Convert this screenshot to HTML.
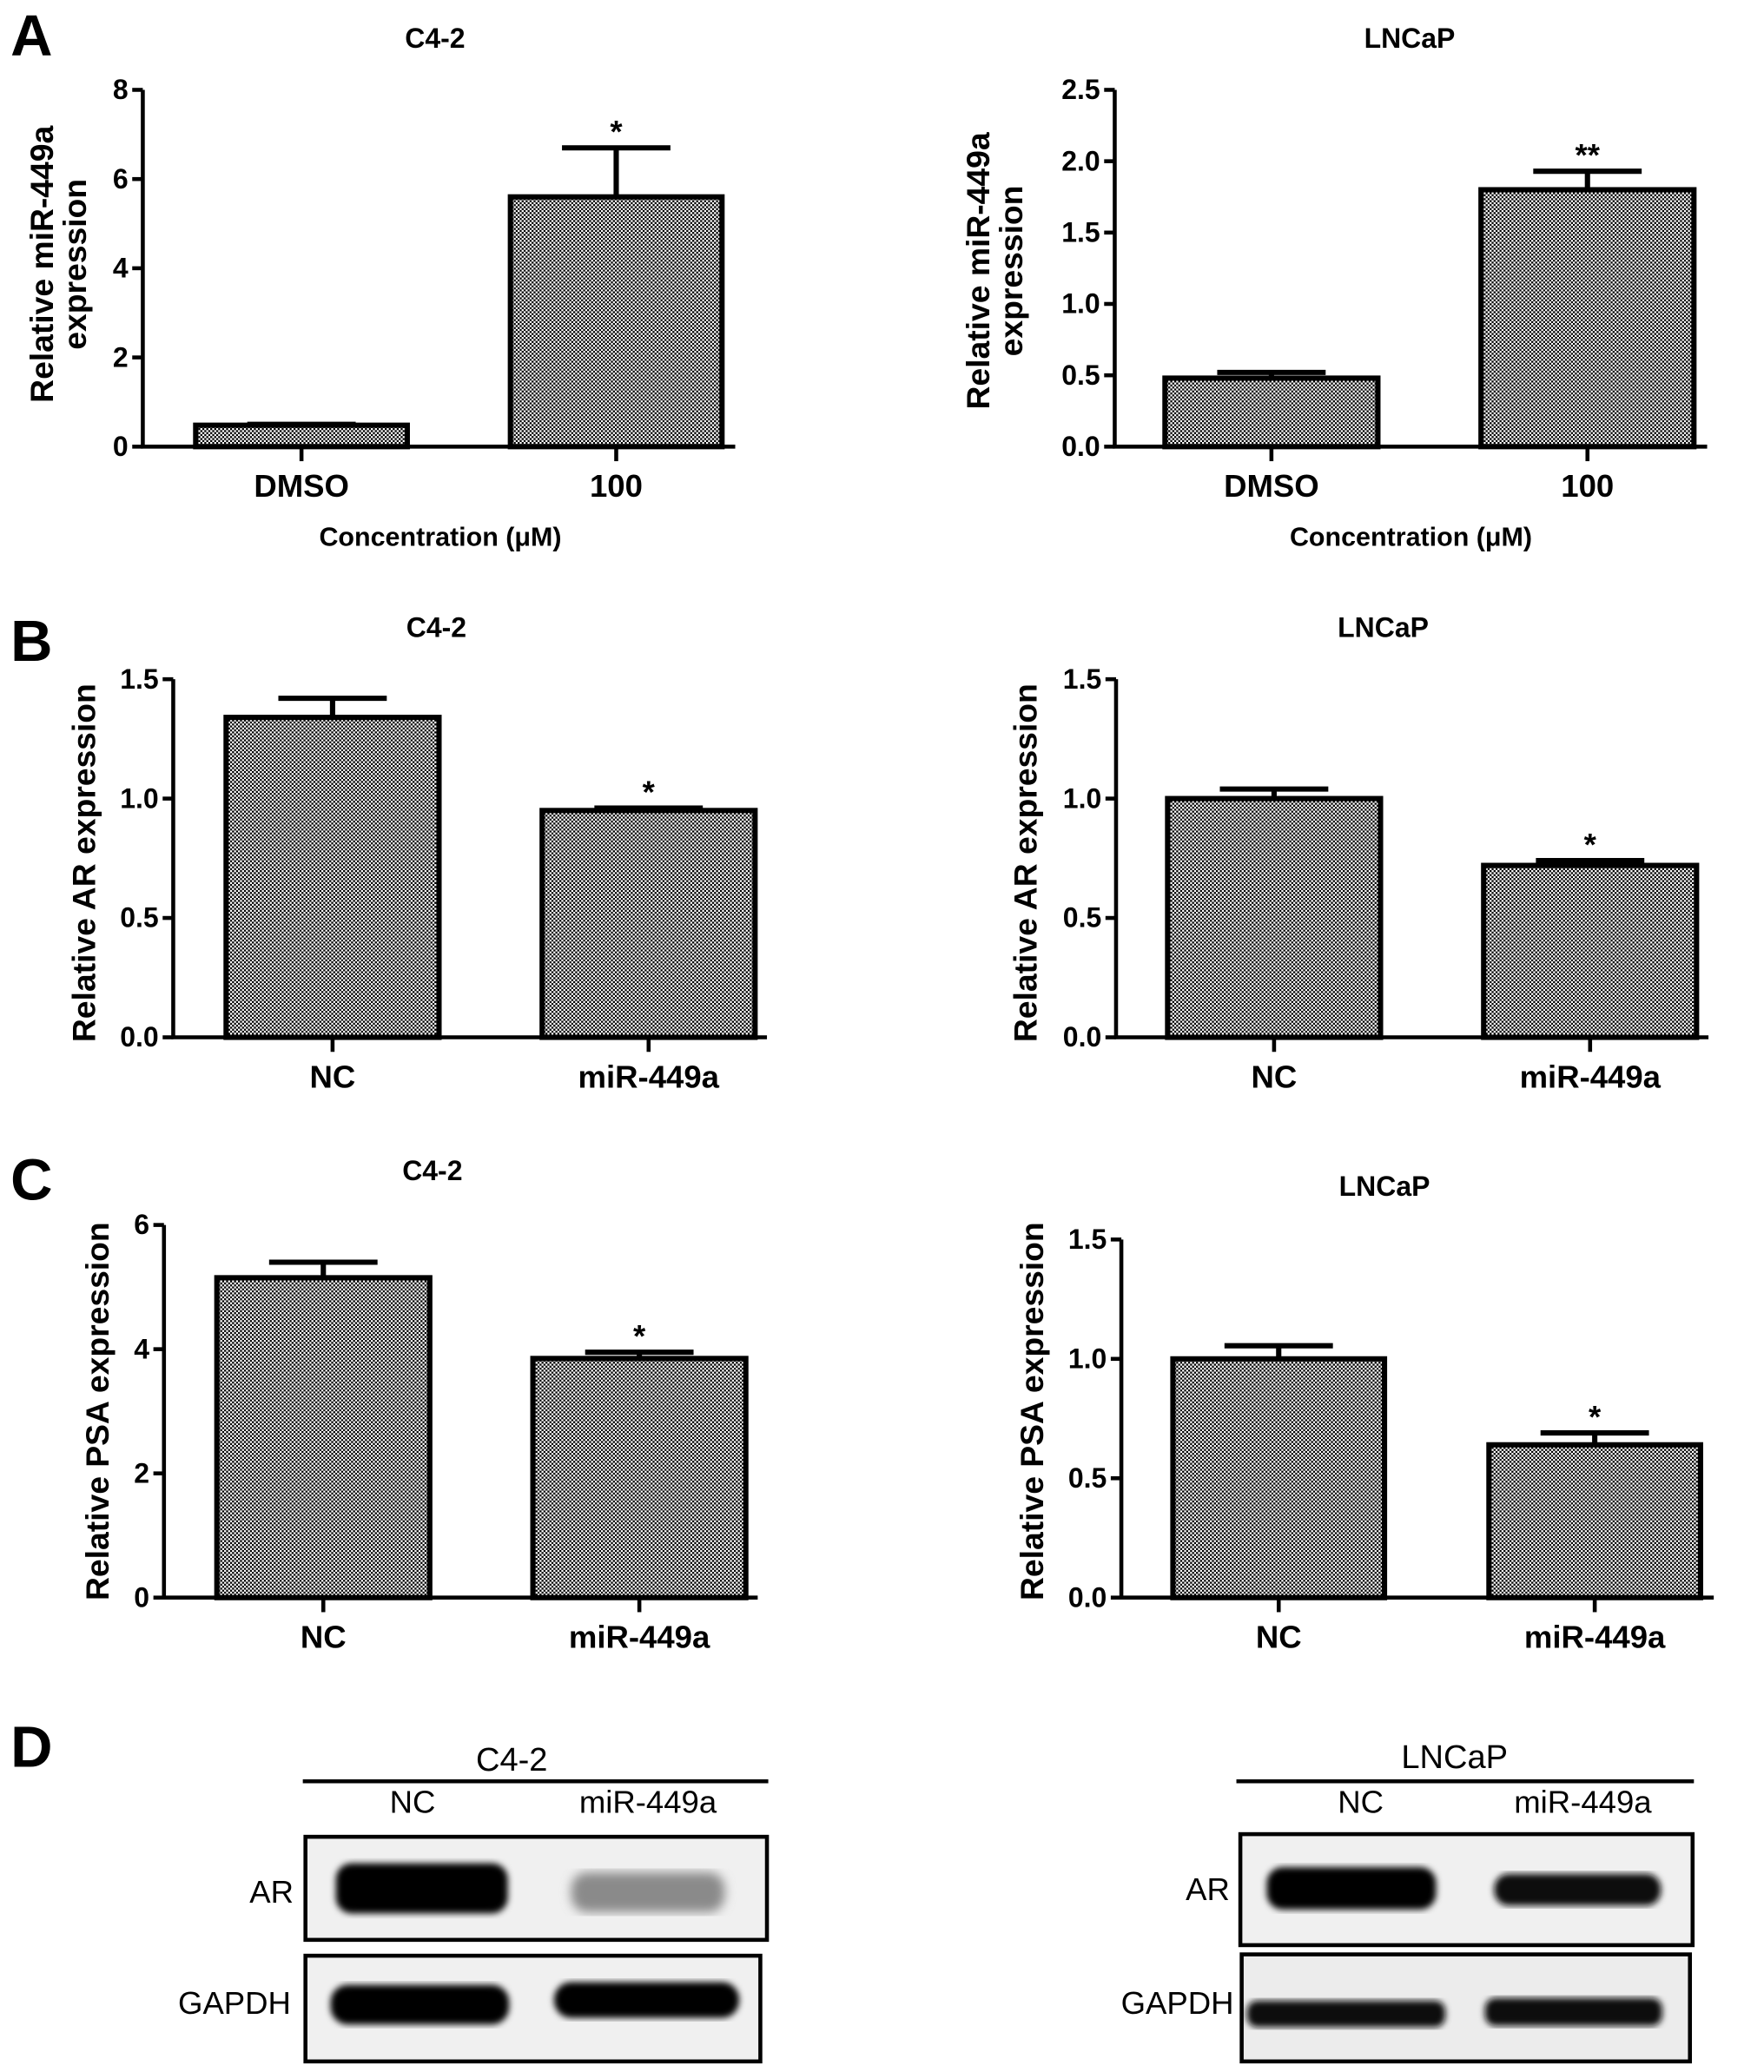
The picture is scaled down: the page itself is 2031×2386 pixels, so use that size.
<!DOCTYPE html>
<html><head><meta charset="utf-8"><style>
html,body{margin:0;padding:0;background:#fff;}
svg{display:block;}
text{font-family:"Liberation Sans",Arial,sans-serif;}
.nar{font-family:"Liberation Sans Narrow","Liberation Sans",sans-serif;font-weight:bold;}
.nr{font-family:"Liberation Sans Narrow","Liberation Sans",sans-serif;}
</style></head><body>
<svg id="fig" width="2031" height="2386" viewBox="0 0 1334 1568" preserveAspectRatio="none" xmlns="http://www.w3.org/2000/svg">
<defs>
<pattern id="chk" width="3" height="3" patternUnits="userSpaceOnUse">
<rect width="3" height="3" fill="#fff"/><rect width="1.5" height="1.5" fill="#000"/><rect x="1.5" y="1.5" width="1.5" height="1.5" fill="#000"/>
</pattern>
<filter id="blur2"><feGaussianBlur stdDeviation="2.5"/></filter>
<filter id="blur4"><feGaussianBlur stdDeviation="4"/></filter>
</defs>
<g id="charts"></g>
<text x="8" y="42" font-size="44" font-weight="bold">A</text>
<text x="8" y="500" font-size="44" font-weight="bold">B</text>
<text x="8" y="908" font-size="44" font-weight="bold">C</text>
<text x="8" y="1337" font-size="44" font-weight="bold">D</text>

<g>
<text x="387" y="1340" font-size="25" text-anchor="middle" class="nr">C4-2</text>
<line x1="229" y1="1348" x2="581" y2="1348" stroke="#000" stroke-width="3"/>
<text x="312" y="1372" font-size="24" text-anchor="middle" class="nr">NC</text>
<text x="490" y="1372" font-size="24" text-anchor="middle" class="nr">miR-449a</text>
<rect x="231" y="1390" width="349" height="78" fill="#f0f0f0" stroke="#000" stroke-width="3"/>
<rect x="254" y="1410" width="130" height="38" rx="12" fill="#000" filter="url(#blur2)"/>
<rect x="432" y="1417" width="116" height="30" rx="12" fill="#8a8a8a" filter="url(#blur4)"/>
<text x="222" y="1440" font-size="24" text-anchor="end" class="nr">AR</text>
<rect x="231" y="1480" width="344" height="80" fill="#f0f0f0" stroke="#000" stroke-width="3"/>
<rect x="250" y="1502" width="135" height="30" rx="13" fill="#000" filter="url(#blur2)"/>
<rect x="419" y="1500" width="140" height="27" rx="13" fill="#000" filter="url(#blur2)"/>
<text x="220" y="1524" font-size="24" text-anchor="end" class="nr">GAPDH</text>
</g>
<g>
<text x="1100" y="1338" font-size="25" text-anchor="middle" class="nr">LNCaP</text>
<line x1="935" y1="1348" x2="1281" y2="1348" stroke="#000" stroke-width="3"/>
<text x="1029" y="1372" font-size="24" text-anchor="middle" class="nr">NC</text>
<text x="1197" y="1372" font-size="24" text-anchor="middle" class="nr">miR-449a</text>
<rect x="938" y="1388" width="342" height="84" fill="#f0f0f0" stroke="#000" stroke-width="3"/>
<rect x="958" y="1413" width="128" height="32" rx="12" fill="#000" filter="url(#blur2)"/>
<rect x="1130" y="1418" width="126" height="24" rx="11" fill="#111" filter="url(#blur2)"/>
<text x="930" y="1438" font-size="24" text-anchor="end" class="nr">AR</text>
<rect x="939" y="1479" width="339" height="81" fill="#ececec" stroke="#000" stroke-width="3"/>
<rect x="943" y="1514" width="150" height="20" rx="8" fill="#111" filter="url(#blur2)"/>
<rect x="1123" y="1512" width="134" height="21" rx="8" fill="#111" filter="url(#blur2)"/>
<text x="933" y="1524" font-size="24" text-anchor="end" class="nr">GAPDH</text>
</g>
</svg>
<script>
const catsA = ["DMSO", "100"];
const catsBC = ["NC", "miR-449a"];
const valsA1 = [0.48, 5.6];   const errsA1 = [0.5, 6.7];
const valsA2 = [0.48, 1.8];   const errsA2 = [0.52, 1.93];
const valsB1 = [1.34, 0.95];  const errsB1 = [1.42, 0.96];
const valsB2 = [1.0, 0.72];   const errsB2 = [1.04, 0.74];
const valsC1 = [5.15, 3.85];  const errsC1 = [5.4, 3.95];
const valsC2 = [1.0, 0.64];   const errsC2 = [1.055, 0.69];
const ticksA1 = [0, 2, 4, 6, 8];
const ticksA2 = [0, 0.5, 1.0, 1.5, 2.0, 2.5];
const ticksB = [0, 0.5, 1.0, 1.5];
const ticksC1 = [0, 2, 4, 6];
const ticksC2 = [0, 0.5, 1.0, 1.5];
const starsA1 = ["", "*"]; const starsA2 = ["", "**"];
const starsOther = ["", "*"];

const NS = "http://www.w3.org/2000/svg";
const root = document.getElementById("charts");
function el(tag, attrs, parent) {
  const e = document.createElementNS(NS, tag);
  for (const k in attrs) e.setAttribute(k, attrs[k]);
  (parent || root).appendChild(e);
  return e;
}
function chart(g) {
  const grp = el("g", {});
  
  
  const ymax = g.ticks[g.ticks.length - 1];
  const Y = v => g.bottom - (v / ymax) * (g.bottom - g.top);
  const t = el("text", {x: g.titleX, y: g.titleY, "font-size": 21, "font-weight": "bold", "text-anchor": "middle", class: "nar"}, grp);
  t.textContent = g.title;
  
  
  g.cats.forEach((c, i) => {
    const x0 = g.barX[i];
    const cx = x0 + g.barW / 2;
    const ey = Y(g.errs[i]);
    const by = Y(g.vals[i]);
    const eb = el("path", {d: `M${cx},${by} V${ey} M${cx - 41},${ey} H${cx + 41}`, stroke: "#000", "stroke-width": 4, fill: "none"}, grp);
    
    
    const b = el("rect", {x: x0, y: by, width: g.barW, height: g.bottom - by, fill: "url(#chk)", stroke: "#000", "stroke-width": 4}, grp);
    
    
    if (g.stars[i]) {
      const s = el("text", {x: cx, y: ey - 4, "font-size": 24, "font-weight": "bold", "text-anchor": "middle"}, grp);
      s.textContent = g.stars[i];
      
      
    }
    el("line", {x1: cx, y1: g.bottom, x2: cx, y2: g.bottom + 11, stroke: "#000", "stroke-width": 3}, grp);
    const lab = el("text", {x: cx, y: g.bottom + 38, "font-size": 24, "text-anchor": "middle", class: "nar"}, grp);
    lab.textContent = c;
    
    
  });
  const ax = el("path", {d: `M${g.axisX},${g.top} V${g.bottom} H${g.axisEnd}`, stroke: "#000", "stroke-width": 3, fill: "none"}, grp);
  
  
  g.ticks.forEach(v => {
    const y = Y(v);
    el("line", {x1: g.axisX - 8, y1: y, x2: g.axisX, y2: y, stroke: "#000", "stroke-width": 3}, grp);
    const tl = el("text", {x: g.axisX - 11, y: y + 7, "font-size": 21, "text-anchor": "end", class: "nar"}, grp);
    tl.textContent = g.fmt(v);
    
    
  });
  g.ylab.forEach((line, k) => {
    const x = g.ylabX + k * 25;
    const yl = el("text", {x: x, y: g.ylabY, "font-size": 24.5, "font-weight": "bold", "text-anchor": "middle", transform: `rotate(-90 ${x} ${g.ylabY})`}, grp);
    yl.textContent = line;
    
    
  });
  if (g.xlab) {
    const xl = el("text", {x: g.xlabX, y: g.bottom + 75, "font-size": 20, "font-weight": "bold", "text-anchor": "middle"}, grp);
    xl.textContent = g.xlab;
    
    
  }
}
const f0 = v => String(v), f1 = v => v.toFixed(1);
chart({name: "chart-a-c42", title: "C4-2", titleX: 329, titleY: 36, cats: catsA, vals: valsA1, errs: errsA1, stars: starsA1, ticks: ticksA1, fmt: f0,
  axisX: 108, axisEnd: 556, top: 68, bottom: 338, barX: [148, 386], barW: 160, ylab: ["Relative miR-449a", "expression"], ylabX: 40, ylabY: 200, xlab: "Concentration (μM)", xlabX: 333});
chart({name: "chart-a-lncap", title: "LNCaP", titleX: 1066, titleY: 36, cats: catsA, vals: valsA2, errs: errsA2, stars: starsA2, ticks: ticksA2, fmt: f1,
  axisX: 843, axisEnd: 1291, top: 68, bottom: 338, barX: [881, 1120], barW: 161, ylab: ["Relative miR-449a", "expression"], ylabX: 748, ylabY: 205, xlab: "Concentration (μM)", xlabX: 1067});
chart({name: "chart-b-c42", title: "C4-2", titleX: 330, titleY: 482, cats: catsBC, vals: valsB1, errs: errsB1, stars: starsOther, ticks: ticksB, fmt: f1,
  axisX: 131, axisEnd: 580, top: 514, bottom: 785, barX: [171, 410], barW: 161, ylab: ["Relative AR expression"], ylabX: 72, ylabY: 653});
chart({name: "chart-b-lncap", title: "LNCaP", titleX: 1046, titleY: 482, cats: catsBC, vals: valsB2, errs: errsB2, stars: starsOther, ticks: ticksB, fmt: f1,
  axisX: 844, axisEnd: 1292, top: 514, bottom: 785, barX: [883, 1122], barW: 161, ylab: ["Relative AR expression"], ylabX: 784, ylabY: 653});
chart({name: "chart-c-c42", title: "C4-2", titleX: 327, titleY: 893, cats: catsBC, vals: valsC1, errs: errsC1, stars: starsOther, ticks: ticksC1, fmt: f0,
  axisX: 124, axisEnd: 573, top: 927, bottom: 1209, barX: [164, 403], barW: 161, ylab: ["Relative PSA expression"], ylabX: 82, ylabY: 1068});
chart({name: "chart-c-lncap", title: "LNCaP", titleX: 1047, titleY: 905, cats: catsBC, vals: valsC2, errs: errsC2, stars: starsOther, ticks: ticksC2, fmt: f1,
  axisX: 848, axisEnd: 1296, top: 938, bottom: 1209, barX: [887, 1126], barW: 160, ylab: ["Relative PSA expression"], ylabX: 789, ylabY: 1068});
</script>
</body></html>
